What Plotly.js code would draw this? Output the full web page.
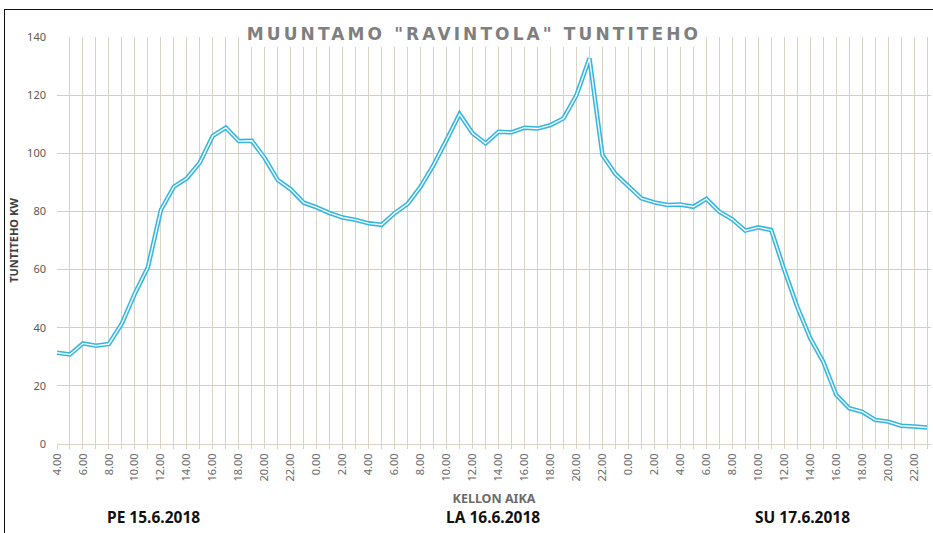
<!DOCTYPE html>
<html>
<head>
<meta charset="utf-8">
<script src="https://cdn.plot.ly/plotly-3.0.1.min.js"></script>
<style>
  html, body { margin: 0; padding: 0; background: #ffffff; }
  #chart { width: 933px; height: 533px; position: absolute; left: 0; top: 0; }
  #frame { position: absolute; left: 4px; top: 9px; width: 940px; height: 540px; border: 1.5px solid #111; pointer-events: none; }
</style>
</head>
<body>
<div id="chart"></div>
<div id="frame"></div>
<script>
// Hour labels for each hourly point (Fri 4.00 ... Sun 23.00)
const hourLabels = [
  "4.00","5.00","6.00","7.00","8.00","9.00","10.00","11.00","12.00","13.00","14.00","15.00","16.00","17.00","18.00","19.00","20.00","21.00","22.00","23.00",
  "0.00","1.00","2.00","3.00","4.00","5.00","6.00","7.00","8.00","9.00","10.00","11.00","12.00","13.00","14.00","15.00","16.00","17.00","18.00","19.00","20.00","21.00","22.00","23.00",
  "0.00","1.00","2.00","3.00","4.00","5.00","6.00","7.00","8.00","9.00","10.00","11.00","12.00","13.00","14.00","15.00","16.00","17.00","18.00","19.00","20.00","21.00","22.00","23.00"
];
// Hourly power, kW
const powerKW = [
  31.4, 30.8, 34.6, 33.8, 34.4, 41.5, 51.8, 60.8, 80.5, 88.5, 91.4, 96.8, 106.0, 108.8, 104.2, 104.3, 98.3, 90.8, 87.6, 83.0,
  81.4, 79.4, 77.9, 77.1, 75.9, 75.4, 79.4, 82.6, 88.5, 96.0, 104.6, 113.5, 106.9, 103.4, 107.4, 107.2, 108.8, 108.5, 109.7, 112.0, 120.0, 132.7, 99.4, 92.9,
  88.7, 84.5, 83.1, 82.2, 82.4, 81.6, 84.3, 79.9, 77.3, 73.4, 74.5, 73.6, 59.9, 47.2, 36.4, 28.3, 16.9, 12.3, 11.1, 8.3, 7.7, 6.3, 6.0, 5.7
];
const dayLabels = ["PE 15.6.2018", "LA 16.6.2018", "SU 17.6.2018"];
const dayLabelPos = [7.4, 33.6, 57.4]; // hour index at label centre
const yTicks = [0, 20, 40, 60, 80, 100, 120, 140];

const xIdx = hourLabels.map((_, i) => i);
const tickText = hourLabels.map((t, i) => (i % 2 === 0 ? t : ""));

const lineTraceOuter = {
  x: xIdx, y: powerKW, type: "scatter", mode: "lines",
  line: { color: "#35b6e2", width: 4.5 }, hoverinfo: "skip", showlegend: false
};
const lineTraceInner = {
  x: xIdx, y: powerKW, type: "scatter", mode: "lines",
  line: { color: "#f4fbfe", width: 1.4 }, showlegend: false
};

const gridCol = "#d9d3c6";

const layout = {
  width: 933, height: 533,
  margin: { l: 57, r: 2, t: 37, b: 89 },
  paper_bgcolor: "#ffffff", plot_bgcolor: "#ffffff",
  showlegend: false,
  title: {
    text: 'MUUNTAMO "RAVINTOLA" TUNTITEHO',
    font: { family: "DejaVu Sans", size: 17, color: "#7f7f7f", weight: "bold" },
    x: 0.508, xanchor: "center", y: 0.936, yanchor: "middle"
  },
  xaxis: {
    type: "linear", range: [0, 67.3],
    tickmode: "array", tickvals: xIdx, ticktext: tickText,
    tickangle: -90,
    tickfont: { family: "Noto Sans", size: 11, color: "#6b6b6b" },
    showgrid: true, gridcolor: gridCol, gridwidth: 1,
    zeroline: false, showline: true, linecolor: gridCol,
    ticks: "outside", ticklen: 4, tickcolor: gridCol,
    title: { text: "KELLON AIKA", font: { family: "Noto Sans", size: 12.5, color: "#6b6b6b", weight: "bold" }, standoff: 13 },
    fixedrange: true
  },
  yaxis: {
    range: [0, 140], tickmode: "array", tickvals: yTicks,
    tickfont: { family: "Noto Sans", size: 11, color: "#595959" },
    showgrid: true, gridcolor: "#d3cdc3", gridwidth: 1,
    zeroline: false, showline: false,
    ticks: "", ticklabelstandoff: 10,
    title: { text: "TUNTITEHO KW", font: { family: "Noto Sans", size: 11, color: "#404040", weight: "bold" }, standoff: 6 },
    fixedrange: true
  },
  shapes: [
    { type: "rect", xref: "paper", yref: "paper", x0: 0.2117, x1: 0.7426, y0: 0.9754, y1: 1.06,
      fillcolor: "#ffffff", line: { width: 0 }, layer: "above" }
  ],
  annotations: dayLabels.map((t, i) => ({
    text: t, x: dayLabelPos[i], xref: "x", y: -0.179, yref: "paper",
    xanchor: "center", yanchor: "middle", showarrow: false,
    font: { family: "Noto Sans", size: 15.5, color: "#111111", weight: "bold" }
  }))
};

Plotly.newPlot("chart", [lineTraceOuter, lineTraceInner], layout, { displayModeBar: false, staticPlot: true }).then(() => {
  document.querySelectorAll(".gtitle").forEach(el => { el.style.letterSpacing = "3.1px"; });
});
</script>
</body>
</html>
